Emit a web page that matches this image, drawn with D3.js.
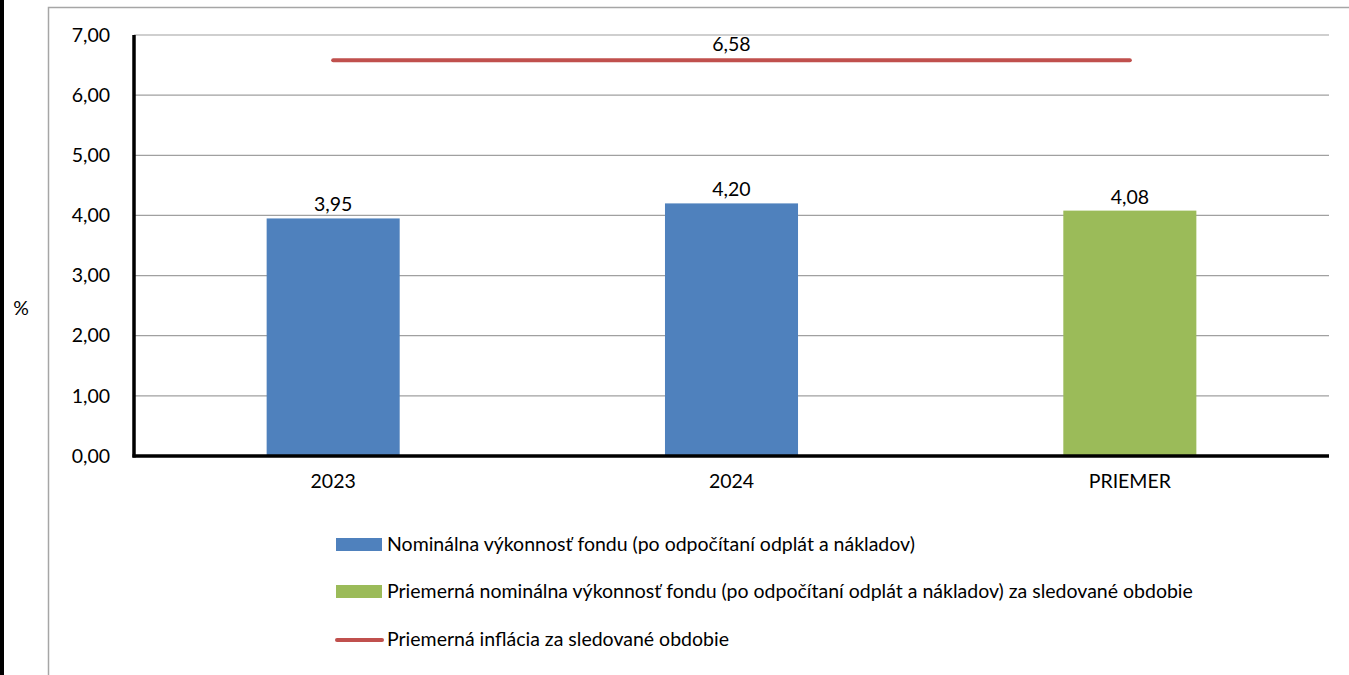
<!DOCTYPE html>
<html><head><meta charset="utf-8">
<script src="https://cdn.jsdelivr.net/npm/d3@7"></script>
<style>body{margin:0;background:#fff}svg{display:block}text{font-family:Lato,"Open Sans",sans-serif;fill:#000}</style>
</head><body><svg id="c" width="1349" height="675"></svg>
<script>
const categories = ["2023", "2024", "PRIEMER"];
const performance = [3.95, 4.20, 4.08];
const barColors = ["#4F81BD", "#4F81BD", "#9BBB59"];
const inflation = 6.58;
const yTicks = [0, 1, 2, 3, 4, 5, 6, 7];
const legendLabels = [
  "Nominálna výkonnosť fondu (po odpočítaní odplát a nákladov)",
  "Priemerná nominálna výkonnosť fondu (po odpočítaní odplát a nákladov) za sledované obdobie",
  "Priemerná inflácia za sledované obdobie"
];
const fmt = v => d3.format(".2f")(v).replace(".", ",");
const FS = "19.5px";

const svg = d3.select("#c");
const L = 134, R = 1329, T = 35, B = 456;
const x = d3.scaleBand().domain(categories).range([L, R]).paddingInner(0.666).paddingOuter(0.333);
const y = d3.scaleLinear().domain([0, 7]).range([B, T]);

// outer frame
svg.append("line").attr("x1", 2).attr("x2", 2).attr("y1", 0).attr("y2", 675).attr("stroke", "#000").attr("stroke-width", 4);
svg.append("path").attr("d", "M48.5,675V7.5H1349").attr("fill", "none").attr("stroke", "#a6a6a6").attr("stroke-width", 1.5);

// gridlines
svg.append("g").selectAll("line").data(yTicks.filter(d => d > 0)).join("line")
  .attr("x1", L).attr("x2", R).attr("y1", d => y(d)).attr("y2", d => y(d))
  .attr("stroke", "#a0a0a0").attr("stroke-width", 1.2);

// y axis labels
const ya = svg.append("g").attr("transform", `translate(${L},0)`)
  .call(d3.axisLeft(y).tickValues(yTicks).tickFormat(fmt).tickSize(0).tickPadding(24));
ya.select(".domain").remove();
ya.selectAll("text").style("font-family", "Lato").style("font-size", FS).attr("fill", "#000");

// bars
svg.append("g").selectAll("rect").data(performance).join("rect")
  .attr("x", (d, i) => x(categories[i])).attr("width", x.bandwidth())
  .attr("y", d => y(d)).attr("height", d => B - y(d))
  .attr("fill", (d, i) => barColors[i]);
svg.append("g").selectAll("text").data(performance).join("text")
  .attr("x", (d, i) => x(categories[i]) + x.bandwidth() / 2).attr("y", d => y(d) - 7)
  .attr("text-anchor", "middle").style("font-size", FS).text(fmt);

// axes lines
svg.append("line").attr("x1", L).attr("x2", L).attr("y1", T).attr("y2", B + 1.5).attr("stroke", "#000").attr("stroke-width", 3.5);
svg.append("line").attr("x1", L - 1.5).attr("x2", R).attr("y1", B).attr("y2", B).attr("stroke", "#000").attr("stroke-width", 3.5);

// x labels
const xa = svg.append("g").attr("transform", `translate(0,${B})`)
  .call(d3.axisBottom(x).tickSize(0).tickPadding(18));
xa.select(".domain").remove();
xa.selectAll("text").style("font-family", "Lato").style("font-size", FS).attr("fill", "#000");

// inflation line
const cx = c => x(c) + x.bandwidth() / 2;
svg.append("line").attr("x1", cx(categories[0])).attr("x2", cx(categories[2]))
  .attr("y1", y(inflation)).attr("y2", y(inflation))
  .attr("stroke", "#C0504D").attr("stroke-width", 4).attr("stroke-linecap", "round");
svg.append("text").attr("x", cx(categories[1])).attr("y", y(inflation) - 9)
  .attr("text-anchor", "middle").style("font-size", FS).text(fmt(inflation));

// y title
svg.append("text").attr("x", 21).attr("y", 315).attr("text-anchor", "middle").style("font-size", FS).text("%");

// legend
const ly = [545, 592, 640];
const lg = svg.append("g");
legendLabels.forEach((t, i) => {
  if (i < 2) lg.append("rect").attr("x", 336).attr("y", ly[i] - 7).attr("width", 46).attr("height", 13).attr("fill", barColors[i === 0 ? 0 : 2]);
  else lg.append("line").attr("x1", 337).attr("x2", 382).attr("y1", ly[i]).attr("y2", ly[i]).attr("stroke", "#C0504D").attr("stroke-width", 4).attr("stroke-linecap", "round");
  lg.append("text").attr("x", 387).attr("y", ly[i] + 6).style("font-size", FS).text(t);
});
</script></body></html>
